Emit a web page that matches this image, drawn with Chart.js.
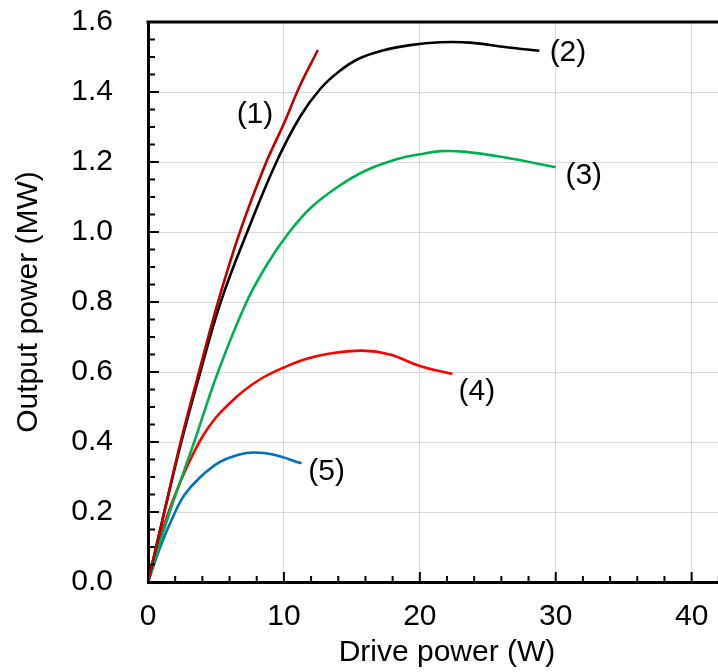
<!DOCTYPE html>
<html lang="en">
<head>
    <meta charset="UTF-8">
    <title>Output power vs drive power</title>
    <style>
        html, body { margin: 0; padding: 0; background: #fff; overflow: hidden; }
        .chart-box { position: relative; width: 746px; height: 672px; }
    </style>
</head>
<body>
    <div class="chart-box">
        <canvas id="powerChart"></canvas>
    </div>

    <script src="https://cdn.jsdelivr.net/npm/chart.js"></script>
    <script>
        // curve (1)
        const drive1 = [0, 1.2, 2.4, 3.75, 5.15, 6.76, 8.6, 10, 11.2, 12.5];
        const out1 = [0, 0.2, 0.4, 0.6, 0.8, 1.0, 1.19, 1.31, 1.42, 1.52];
        // curve (2)
        const drive2 = [0, 1.2, 2.45, 3.85, 5.35, 7.3, 9.45, 11.2, 12.7, 14.1, 15.5, 17.2, 19.3, 21.5, 23.7, 26.4, 28.8];
        const out2 = [0, 0.2, 0.4, 0.6, 0.8, 1.0, 1.2, 1.33, 1.41, 1.46, 1.495, 1.518, 1.534, 1.542, 1.541, 1.528, 1.518];
        // curve (3)
        const drive3 = [0, 1.6, 3.4, 5.15, 7.25, 8.8, 10.4, 12, 14, 16, 18.5, 20, 21.5, 23.4, 26.4, 30];
        const out3 = [0, 0.2, 0.4, 0.6, 0.8, 0.91, 1.0, 1.07, 1.13, 1.175, 1.21, 1.222, 1.231, 1.229, 1.212, 1.185];
        // curve (4)
        const drive4 = [0, 1, 2, 3, 4, 5, 6, 7, 8.5, 10, 11.5, 13.4, 15.8, 17.8, 20, 22.4];
        const out4 = [0, 0.14, 0.25, 0.34, 0.415, 0.47, 0.51, 0.545, 0.585, 0.613, 0.636, 0.653, 0.661, 0.65, 0.617, 0.594];
        // curve (5)
        const drive5 = [0, 1, 2, 2.7, 3.8, 5.3, 6.8, 7.8, 9.2, 11.3];
        const out5 = [0, 0.11, 0.2, 0.25, 0.298, 0.343, 0.365, 0.37, 0.364, 0.339];

        const curveNames = ['(1)', '(2)', '(3)', '(4)', '(5)'];
        // where each name sits, in axis units
        const nameX = [7.87, 30.9, 32.06, 24.2, 13.14];
        const nameY = [1.334, 1.511, 1.16, 0.544, 0.316];

        const xTicks = [0, 10, 20, 30, 40];
        const yTicks = [0, 0.2, 0.4, 0.6, 0.8, 1.0, 1.2, 1.4, 1.6];

        const colors = ['#C00000', '#000000', '#00B050', '#FF0000', '#0070C0'];
        const drives = [drive1, drive2, drive3, drive4, drive5];
        const outs = [out1, out2, out3, out4, out5];

        const FONT = "'Liberation Sans', Arial, sans-serif";

        const datasets = drives.map((xs, i) => ({
            label: curveNames[i],
            data: xs.map((v, j) => ({ x: v, y: outs[i][j] })),
            borderColor: colors[i],
            borderWidth: 2.6,
            pointRadius: 0,
            showLine: true,
            fill: false,
            tension: 0.4
        }));

        // ticks inside the frame, top border and the curve names
        const decor = {
            id: 'decor',
            afterDatasetsDraw(chart) {
                const { ctx, chartArea: a, scales: { x, y } } = chart;
                ctx.save();
                ctx.strokeStyle = '#000';
                ctx.lineWidth = 2;
                ctx.beginPath();
                for (let v = 0; v <= x.max; v += 2) {
                    const px = x.getPixelForValue(v);
                    const len = v % 10 === 0 ? 10 : 6;
                    ctx.moveTo(px, a.bottom);
                    ctx.lineTo(px, a.bottom - len);
                }
                for (let i = 0; i <= 32; i++) {
                    const py = y.getPixelForValue(i * 0.05);
                    const len = i % 4 === 0 ? 11 : 7;
                    ctx.moveTo(a.left, py);
                    ctx.lineTo(a.left + len, py);
                }
                ctx.stroke();

                ctx.lineWidth = 3;
                ctx.beginPath();
                ctx.moveTo(a.left - 1.5, a.top);
                ctx.lineTo(a.right, a.top);
                ctx.stroke();

                ctx.fillStyle = '#000';
                ctx.font = '30px ' + FONT;
                ctx.textAlign = 'center';
                ctx.textBaseline = 'middle';
                curveNames.forEach((t, i) => {
                    ctx.fillText(t, x.getPixelForValue(nameX[i]), y.getPixelForValue(nameY[i]));
                });
                ctx.restore();
            }
        };

        new Chart(document.getElementById('powerChart'), {
            type: 'scatter',
            data: { datasets },
            options: {
                responsive: true,
                maintainAspectRatio: false,
                animation: false,
                layout: { padding: { top: 22, right: 0, bottom: 0, left: 0 } },
                plugins: {
                    legend: { display: false },
                    tooltip: { enabled: false }
                },
                scales: {
                    x: {
                        type: 'linear',
                        min: 0,
                        max: 44,
                        afterBuildTicks: s => { s.ticks = xTicks.map(v => ({ value: v })); },
                        afterFit: s => { s.height = 90; s.paddingLeft = 0; s.paddingRight = 0; },
                        grid: { color: '#d9d9d9', lineWidth: 1, drawTicks: false },
                        border: { color: '#000', width: 3 },
                        ticks: {
                            padding: 17,
                            color: '#000',
                            font: { family: FONT, size: 30 },
                            maxRotation: 0
                        },
                        title: {
                            display: true,
                            text: 'Drive power (W)',
                            color: '#000',
                            font: { family: FONT, size: 30 },
                            padding: { top: 0, bottom: 1 }
                        }
                    },
                    y: {
                        type: 'linear',
                        min: 0,
                        max: 1.6,
                        afterBuildTicks: s => { s.ticks = yTicks.map(v => ({ value: v })); },
                        afterFit: s => { s.width = 148; s.paddingTop = 0; s.paddingBottom = 0; },
                        grid: { color: '#d9d9d9', lineWidth: 1, drawTicks: false },
                        border: { color: '#000', width: 3 },
                        ticks: {
                            padding: 35,
                            color: '#000',
                            font: { family: FONT, size: 30 },
                            callback: v => v.toFixed(1)
                        },
                        title: {
                            display: true,
                            text: 'Output power (MW)',
                            color: '#000',
                            font: { family: FONT, size: 30 },
                            padding: { top: 11, bottom: 0 }
                        }
                    }
                }
            },
            plugins: [decor]
        });
    </script>
</body>
</html>
